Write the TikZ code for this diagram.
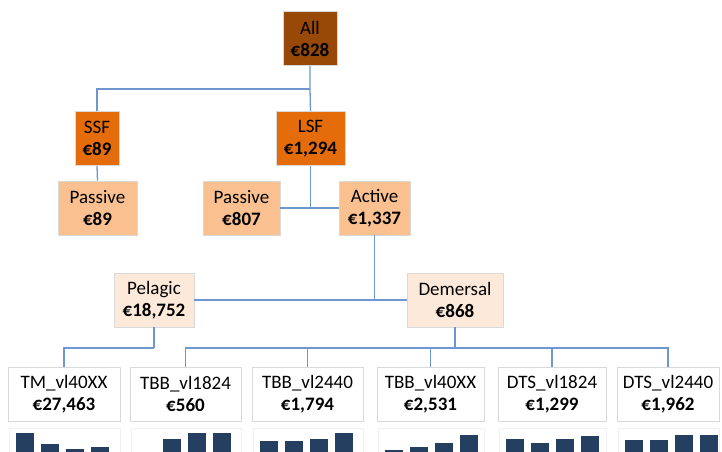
\documentclass[tikz,border=0pt]{standalone}
\usepackage{fontspec}
\setmainfont{Carlito}
\usetikzlibrary{calc}

\definecolor{brown50}{HTML}{984807}
\definecolor{orange25}{HTML}{E46C0A}
\definecolor{orange40}{HTML}{FAC090}
\definecolor{orange80}{HTML}{FDE9D9}
\definecolor{linkblue}{HTML}{6F97CF}
\definecolor{barblue}{HTML}{243F60}
\definecolor{edgegray}{HTML}{D9D9D9}

\tikzset{
  cost/.style={draw=edgegray, line width=0.8pt, align=center, inner sep=0pt,
    minimum height=54pt, text=black, font=\fontsize{19}{22}\selectfont},
  link/.style={draw=linkblue, line width=1.3pt},
  bar/.style={fill=barblue},
  chartframe/.style={draw=gray!12, line width=0.8pt}
}

\begin{document}
\begin{tikzpicture}[x=1pt, y=-1pt]
    \useasboundingbox (0,0) rectangle (722,451);
    \clip (0,0) rectangle (722,451);
    % Top of the tree
    \node[cost, fill=brown50, minimum width=54pt] (all) at (310,38.5) {All\\\textbf{€828}};
    % Fleet segments
    \node[cost, fill=orange25, minimum width=44pt] (ssf) at (97,138.5) {SSF\\\textbf{€89}};
    \node[cost, fill=orange25, minimum width=69pt] (lsf) at (310.5,138.5) {LSF\\\textbf{€1,294}};
    % Gear type
    \node[cost, fill=orange40, minimum width=79pt] (passS) at (97.5,208) {Passive\\\textbf{€89}};
    \node[cost, fill=orange40, minimum width=77pt] (passL) at (241.5,208) {Passive\\\textbf{€807}};
    \node[cost, fill=orange40, minimum width=71pt] (active) at (374.5,208) {Active\\\textbf{€1,337}};
    % Target species
    \node[cost, fill=orange80, minimum width=80pt] (pelagic) at (154,300) {Pelagic\\\textbf{€18,752}};
    \node[cost, fill=orange80, minimum width=96pt] (demersal) at (455,300) {Demersal\\\textbf{€868}};
    % Metier and vessel length
    \node[cost, fill=white, minimum width=112pt] (tm) at (64,394) {TM\_vl40XX\\\textbf{€27,463}};
    \node[cost, fill=white, minimum width=111pt] (tbb1824) at (185.5,394) {TBB\_vl1824\\\textbf{€560}};
    \node[cost, fill=white, minimum width=111pt] (tbb2440) at (307.5,394) {TBB\_vl2440\\\textbf{€1,794}};
    \node[cost, fill=white, minimum width=107pt] (tbb40) at (430.5,394) {TBB\_vl40XX\\\textbf{€2,531}};
    \node[cost, fill=white, minimum width=108pt] (dts1824) at (552,394) {DTS\_vl1824\\\textbf{€1,299}};
    \node[cost, fill=white, minimum width=102pt] (dts2440) at (668,394) {DTS\_vl2440\\\textbf{€1,962}};

    % Connectors
    \coordinate (jall) at (all.south |- 0,89);
    \draw[link] (all.south) -- (jall) -- (lsf.north);
    \draw[link] (ssf.north) |- (jall);
    \draw[link] (ssf.south) -- (passS.north);
    \draw[link] (lsf.south) |- (passL.east);
    \draw[link] (lsf.south) |- (active.west);
    \draw[link] (active.south) |- (pelagic.east);
    \draw[link] (active.south) |- (demersal.west);
    \coordinate (jpel) at (pelagic.south |- 0,348);
    \draw[link] (pelagic.south) -- (jpel);
    \draw[link] (tm.north) |- (jpel);
    \coordinate (jdem) at (demersal.south |- 0,348);
    \draw[link] (demersal.south) -- (jdem);
    \draw[link] (tbb1824.north) |- (jdem);
    \draw[link] (dts2440.north) |- (jdem);
    \foreach \b in {tbb2440, tbb40, dts1824}
      \draw[link] (\b.north) -- (\b.north |- jdem);

    % Small bar charts under each metier
    \foreach \b/\hs in {tm/{433,444,449,447}, tbb1824/{455,439,433,433},
        tbb2440/{441,441,439,433}, tbb40/{450,447,443,435},
        dts1824/{439,443,439,436}, dts2440/{440,440,435,435}} {
      \draw[chartframe] ($(\b.south west)+(2,7)$) rectangle ($(\b.south east)+(0,60)$);
      \foreach \h [count=\i] in \hs
        \fill[bar] ($(\b.south west)+({8.5+25*(\i-1)},{\h-421})$) rectangle ++(18,40);
    }
\end{tikzpicture}
\end{document}
